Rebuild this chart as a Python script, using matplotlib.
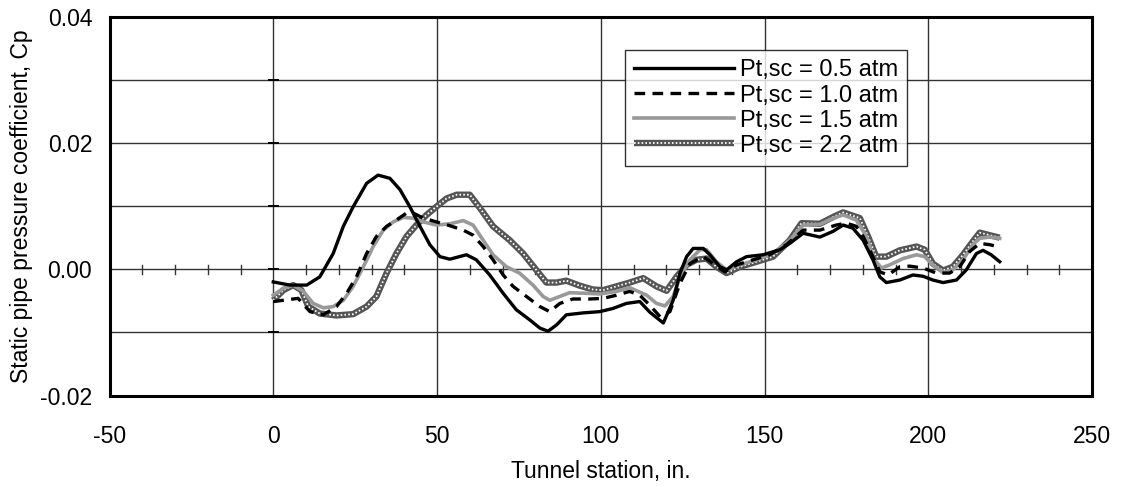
import matplotlib
matplotlib.use("Agg")
import matplotlib.pyplot as plt
from matplotlib.legend_handler import HandlerTuple

plt.rcParams['font.family'] = ['Liberation Sans', 'DejaVu Sans']
plt.rcParams['axes.unicode_minus'] = False

# ---- data ----
x_05 = [0, 5.1, 10.2, 14.2, 18.3, 21.4, 24.4, 28.5, 32.0, 35.6, 38.7, 41.7, 44.8, 47.8, 50.9, 53.9,
        59, 62, 66.1, 70.2, 74.2, 78.3, 81.4, 83.9, 86.5, 89.5, 94.6, 99.7, 103.7, 107.8, 111.9,
        115.0, 119.1, 122.1, 124.2, 126.2, 128.2, 131.3, 133.3, 136.4, 138.4, 141.5, 144.5, 149.6,
        154.7, 157.7, 161.8, 166.9, 170.9, 174.0, 177.0, 180.1, 183.1, 185.2, 187.2, 191.3, 195.3,
        198.4, 201.4, 204.5, 208.6, 211.6, 214.7, 216.7, 219.2, 221.8]
y_05 = [-0.0020, -0.0025, -0.0025, -0.0012, 0.0025, 0.0068, 0.0099, 0.0136, 0.0149, 0.0144, 0.0126,
        0.0099, 0.0068, 0.0039, 0.0020, 0.0016, 0.0023, 0.0015, -0.0009, -0.0038, -0.0064, -0.0080,
        -0.0093, -0.0098, -0.0088, -0.0072, -0.0069, -0.0067, -0.0062, -0.0054, -0.0051,
        -0.0068, -0.0085, -0.0049, -0.0006, 0.0020, 0.0033, 0.0033, 0.0023, 0.0004, -0.0001,
        0.0012, 0.0020, 0.0023, 0.0031, 0.0041, 0.0057, 0.0051, 0.0060, 0.0070, 0.0065, 0.0046,
        0.0015, -0.0012, -0.0021, -0.0017, -0.0009, -0.0011, -0.0017, -0.0021, -0.0017, -0.0001,
        0.0025, 0.0030, 0.0023, 0.0012]

x_10 = [0, 3.1, 7.6, 11.2, 15.3, 19.3, 22.4, 25.4, 28.5, 31.5, 34.6, 37.6, 40.7, 42.7, 45.8, 49.8,
        53.9, 58, 61, 64.1, 67.1, 70.2, 73.2, 77.3, 81.4, 84.4, 87.5, 91.5, 96.6, 100.7, 104.8,
        108.8, 111.9, 115.0, 118.1, 121.1, 124.2, 127.2, 131.3, 134.3, 137.9, 141.5, 146.5, 151.6,
        156.7, 161.8, 166.9, 171.9, 175.0, 178.0, 180.1, 183.1, 185.2, 187.7, 191.3, 194.3, 198.4,
        202.5, 206.5, 209.6, 212.6, 215.7, 218.7, 221.8]
y_10 = [-0.0051, -0.0049, -0.0046, -0.0067, -0.0072, -0.0059, -0.0038, -0.0012, 0.0025, 0.0052,
        0.0068, 0.0078, 0.0089, 0.0089, 0.0081, 0.0075, 0.0069, 0.0062, 0.0054, 0.0036, 0.0015,
        -0.0009, -0.0027, -0.0043, -0.0059, -0.0067, -0.0054, -0.0047, -0.0047, -0.0046, -0.0041,
        -0.0035, -0.0041, -0.0057, -0.0075, -0.0067, -0.0022, 0.0009, 0.0020, 0.0009, -0.0004,
        0.0007, 0.0015, 0.0023, 0.0039, 0.0062, 0.0062, 0.0070, 0.0073, 0.0068, 0.0052, 0.0020,
        -0.0004, -0.0009, 0.0004, 0.0005, 0.0002, -0.0006, -0.0006, 0.0004, 0.0028, 0.0041,
        0.0039, 0.0035]

x_15 = [0, 3.1, 6.1, 9.2, 12.2, 15.3, 18.3, 21.4, 24.4, 27.5, 30.5, 33.6, 36.6, 39.7, 42.7, 45.8,
        49.8, 53.9, 58, 61, 64.1, 67.1, 71.2, 75.2, 79.3, 82.4, 84.4, 87.5, 90.5, 95.6, 99.7, 104.8,
        108.8, 114, 117.0, 119.6, 122.1, 124.2, 127.2, 130.3, 132.3, 135.3, 138.4, 142.5, 147.6,
        152.6, 157.7, 161.8, 166.9, 171, 174, 178, 181.1, 183.6, 185.7, 188.2, 192.3, 196.4, 198.9,
        201.4, 204.5, 207.5, 210.6, 213.6, 215.7, 218.7, 221.8]
y_15 = [-0.0041, -0.0030, -0.0025, -0.0035, -0.0054, -0.0061, -0.0059, -0.0049, -0.0027, 0.0004,
        0.0036, 0.0062, 0.0075, 0.0082, 0.0081, 0.0075, 0.0070, 0.0072, 0.0077, 0.0070, 0.0046,
        0.0023, 0.0004, -0.0006, -0.0025, -0.0043, -0.0049, -0.0043, -0.0037, -0.0038, -0.0039,
        -0.0035, -0.0029, -0.0041, -0.0054, -0.0058, -0.0043, -0.0012, 0.0015, 0.0031, 0.0031,
        0.0012, -0.0001, 0.0007, 0.0015, 0.0025, 0.0046, 0.0070, 0.0071, 0.0081, 0.0086, 0.0078,
        0.0052, 0.0015, 0.0002, 0.0007, 0.0017, 0.0023, 0.0020, 0.0007, -0.0005, -0.0001, 0.0015,
        0.0039, 0.0049, 0.0051, 0.0049]

x_22 = [0, 3.1, 6.1, 8.6, 10.7, 14.2, 19.3, 24.4, 28.5, 31.5, 34.6, 37.6, 40.7, 43.7, 46.8, 49.8,
        52.9, 56, 60, 63.1, 67.1, 72.2, 76.3, 80.3, 83.4, 86.5, 89.5, 93.6, 97.6, 100.7, 104.8,
        108.8, 113, 117, 120.1, 123.1, 126.2, 129.2, 132.3, 135.3, 138.4, 142.5, 147.6, 152.6,
        157.7, 161.3, 166.9, 171, 174, 179.1, 181.6, 184.1, 187.2, 191.3, 196.4, 198.9, 201.4,
        204.5, 207.5, 210.6, 213.6, 215.7, 218.7, 221.8]
y_22 = [-0.0049, -0.0033, -0.0025, -0.0033, -0.0059, -0.0070, -0.0073, -0.0071, -0.0059, -0.0043,
        -0.0006, 0.0025, 0.0052, 0.0070, 0.0086, 0.0099, 0.0112, 0.0118, 0.0118, 0.0097, 0.0068,
        0.0046, 0.0025, -0.0001, -0.0021, -0.0021, -0.0018, -0.0026, -0.0032, -0.0033, -0.0027,
        -0.0021, -0.0014, -0.0027, -0.0034, -0.0012, 0.0007, 0.0015, 0.0017, 0.0004, -0.0006,
        0.0004, 0.0012, 0.0020, 0.0046, 0.0073, 0.0072, 0.0083, 0.0090, 0.0081, 0.0052, 0.0020,
        0.0020, 0.0030, 0.0036, 0.0031, 0.0009, -0.0002, 0.0004, 0.0023, 0.0044, 0.0058, 0.0054,
        0.0050]

labels = ["Pt,sc = 0.5 atm", "Pt,sc = 1.0 atm", "Pt,sc = 1.5 atm", "Pt,sc = 2.2 atm"]
x_ticks = [-50, 0, 50, 100, 150, 200, 250]
y_ticks = [-0.02, 0.00, 0.02, 0.04]
y_tick_labels = ["-0.02", "0.00", "0.02", "0.04"]

# ---- figure ----
fig = plt.figure(figsize=(11.22, 4.87), dpi=100)
ax = fig.add_axes([0.0976, 0.1875, 0.8757, 0.7786])
ax.set_xlim(-50, 250)
ax.set_ylim(-0.02, 0.04)

grid_c = '#333333'
for gx in [0, 50, 100, 150, 200]:
    ax.axvline(gx, color=grid_c, lw=1.0, zorder=1)
for gy in [-0.01, 0.0, 0.01, 0.02, 0.03]:
    ax.axhline(gy, color=grid_c, lw=1.0, zorder=1)

# small tick marks on the axis lines crossing at the origin
for tx in range(-40, 250, 10):
    if tx % 50 != 0:
        ax.plot([tx, tx], [-0.0007, 0.0007], color=grid_c, lw=1.0, zorder=1)
for ty in [-0.01, 0.0, 0.01, 0.02, 0.03]:
    ax.plot([-1.3, 1.3], [ty, ty], color='black', lw=1.4, zorder=1)

l05, = ax.plot(x_05, y_05, color='black', lw=2.4, zorder=5)
l10, = ax.plot(x_10, y_10, color='black', lw=2.4, dashes=(3.2, 2.2), zorder=4)
l15, = ax.plot(x_15, y_15, color='#999999', lw=2.6, zorder=3)
l22a, = ax.plot(x_22, y_22, color='#555555', lw=4.6, zorder=2, solid_capstyle='butt')
l22b, = ax.plot(x_22, y_22, color='white', lw=1.3, dashes=(0.9, 1.2), zorder=2.5)

ax.set_xticks(x_ticks)
ax.set_yticks(y_ticks)
ax.set_yticklabels(y_tick_labels)
ax.tick_params(axis='both', length=0, labelsize=16.5)
ax.tick_params(axis='x', pad=21)
ax.tick_params(axis='y', pad=12.5)

for s in ax.spines.values():
    s.set_linewidth(2.2)
    s.set_color('black')
    s.set_zorder(10)

ax.set_xlabel("Tunnel station, in.", fontsize=16.5, labelpad=9)
ax.set_ylabel("Static pipe pressure coefficient, Cp", fontsize=16.5, labelpad=5)

leg = ax.legend([l05, l10, l15, (l22a, l22b)], labels,
                handler_map={tuple: HandlerTuple(ndivide=1)},
                loc='upper left', bbox_to_anchor=(0.5247, 0.9116), borderaxespad=0,
                fontsize=17, frameon=True, fancybox=False, edgecolor='black',
                handlelength=4.2, handletextpad=0.25, labelspacing=0.13,
                borderpad=0.4)
leg.get_frame().set_linewidth(1.0)
leg.set_zorder(20)

fig.savefig("out.png", dpi=100)
